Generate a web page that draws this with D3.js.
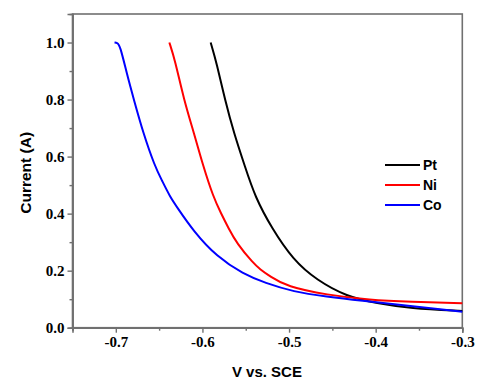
<!DOCTYPE html>
<html>
<head>
<meta charset="utf-8">
<script src="https://cdn.jsdelivr.net/npm/d3@7"></script>
<style>
  html, body { margin: 0; padding: 0; background: #fff; }
  svg { display: block; }
</style>
</head>
<body>
<svg id="chart" width="483" height="382"></svg>
<script>
// ---- data ----
const seriesNames = ["Pt", "Ni", "Co"];
const seriesColors = ["#000000", "#ff0000", "#0000ff"];

const ptV = [-0.5905, -0.5835, -0.5739, -0.5636, -0.5509, -0.5393, -0.5200, -0.4951, -0.4681, -0.4334, -0.3988, -0.3604, -0.3];
const ptI = [1.0, 0.927, 0.798, 0.682, 0.565, 0.459, 0.349, 0.237, 0.167, 0.109, 0.086, 0.068, 0.059];

const niV = [-0.6382, -0.6317, -0.6213, -0.6097, -0.5990, -0.5875, -0.5786, -0.5699, -0.5604, -0.5413, -0.5335, -0.5220, -0.5027, -0.4565, -0.4065, -0.3604, -0.3];
const niI = [1.0, 0.939, 0.798, 0.682, 0.565, 0.459, 0.401, 0.349, 0.296, 0.226, 0.205, 0.180, 0.144, 0.115, 0.097, 0.091, 0.086];

const coV = [-0.7015, -0.6986, -0.6952, -0.6874, -0.6790, -0.6683, -0.6548, -0.6470, -0.6374, -0.6294, -0.6105, -0.5835, -0.5528, -0.5278, -0.4951, -0.4565, -0.4181, -0.3604, -0.3];
const coI = [1.0, 0.999, 0.991, 0.892, 0.798, 0.682, 0.565, 0.518, 0.459, 0.423, 0.339, 0.249, 0.188, 0.157, 0.126, 0.109, 0.095, 0.076, 0.056];

const xTicks = [-0.7, -0.6, -0.5, -0.4, -0.3];
const xMinorTicks = [-0.75, -0.65, -0.55, -0.45, -0.35];
const yTicks = [0.0, 0.2, 0.4, 0.6, 0.8, 1.0];
const yMinorTicks = [0.1, 0.3, 0.5, 0.7, 0.9];
const xLabel = "V vs. SCE";
const yLabel = "Current (A)";

// ---- layout ----
const svg = d3.select("#chart");
const pLeft = 72.5, pRight = 462.3, pTop = 14, pBottom = 327.7;
const x = d3.scaleLinear().domain([-0.75, -0.3]).range([pLeft, pRight]);
const y = d3.scaleLinear().domain([0, 1.1]).range([pBottom, pTop]);
const frameColor = "#707070";
const fmt = d => d.toFixed(1);
const serifFont = "'Liberation Serif', 'Times New Roman', serif";
const sansFont = "'Liberation Sans', Arial, sans-serif";

// frame
svg.append("rect")
  .attr("x", pLeft).attr("y", pTop)
  .attr("width", pRight - pLeft).attr("height", pBottom - pTop)
  .attr("fill", "none").attr("stroke", frameColor).attr("stroke-width", 1.6);

function styleTicks(g) {
  g.attr("font-family", null);
  g.selectAll(".tick text")
    .style("font-family", serifFont)
    .style("font-size", "15px")
    .style("font-weight", "bold")
    .style("fill", "#000");
}

// x axis
const gx = svg.append("g").attr("transform", `translate(0,${pBottom})`);
gx.call(d3.axisBottom(x).tickValues(xTicks).tickSize(5).tickPadding(4).tickFormat(fmt));
gx.append("g").call(d3.axisBottom(x).tickValues(xMinorTicks).tickSize(3).tickFormat(""));
gx.selectAll(".domain").attr("stroke", frameColor).attr("stroke-width", 1.6);
gx.selectAll(".tick line").attr("stroke", frameColor).attr("stroke-width", 1.4);
styleTicks(gx);

// y axis
const gy = svg.append("g").attr("transform", `translate(${pLeft},0)`);
gy.call(d3.axisLeft(y).tickValues(yTicks).tickSize(5).tickPadding(3).tickFormat(fmt));
gy.append("g").call(d3.axisLeft(y).tickValues(yMinorTicks).tickSize(3).tickFormat(""));
gy.selectAll(".domain").attr("stroke", frameColor).attr("stroke-width", 1.6);
gy.selectAll(".tick line").attr("stroke", frameColor).attr("stroke-width", 1.4);
styleTicks(gy);

// axis titles
svg.append("text")
  .attr("x", (pLeft + pRight) / 2 - 0.5).attr("y", 377)
  .attr("text-anchor", "middle")
  .style("font-family", sansFont).style("font-weight", "bold").style("font-size", "15px")
  .text(xLabel);

svg.append("text")
  .attr("transform", `translate(31,${(pTop + pBottom) / 2 + 2}) rotate(-90)`)
  .attr("text-anchor", "middle")
  .style("font-family", sansFont).style("font-weight", "bold").style("font-size", "15.5px")
  .text(yLabel);

// curves
const seriesData = [
  ptV.map((v, i) => [v, ptI[i]]),
  niV.map((v, i) => [v, niI[i]]),
  coV.map((v, i) => [v, coI[i]])
];
const line = d3.line()
  .x(d => x(d[0])).y(d => y(d[1]))
  .curve(d3.curveBasis);

[0, 1, 2].forEach(k => {
  svg.append("path")
    .datum(seriesData[k])
    .attr("fill", "none")
    .attr("stroke", seriesColors[k])
    .attr("stroke-width", 2)
    .attr("stroke-linejoin", "round")
    .attr("d", line);
});

// legend
const legend = svg.append("g");
seriesNames.forEach((name, i) => {
  const ly = 165 + i * 20;
  legend.append("line")
    .attr("x1", 385).attr("x2", 420).attr("y1", ly).attr("y2", ly)
    .attr("stroke", seriesColors[i]).attr("stroke-width", 2);
  legend.append("text")
    .attr("x", 423).attr("y", ly + 5)
    .style("font-family", sansFont).style("font-weight", "bold").style("font-size", "14px")
    .text(name);
});
</script>
</body>
</html>
